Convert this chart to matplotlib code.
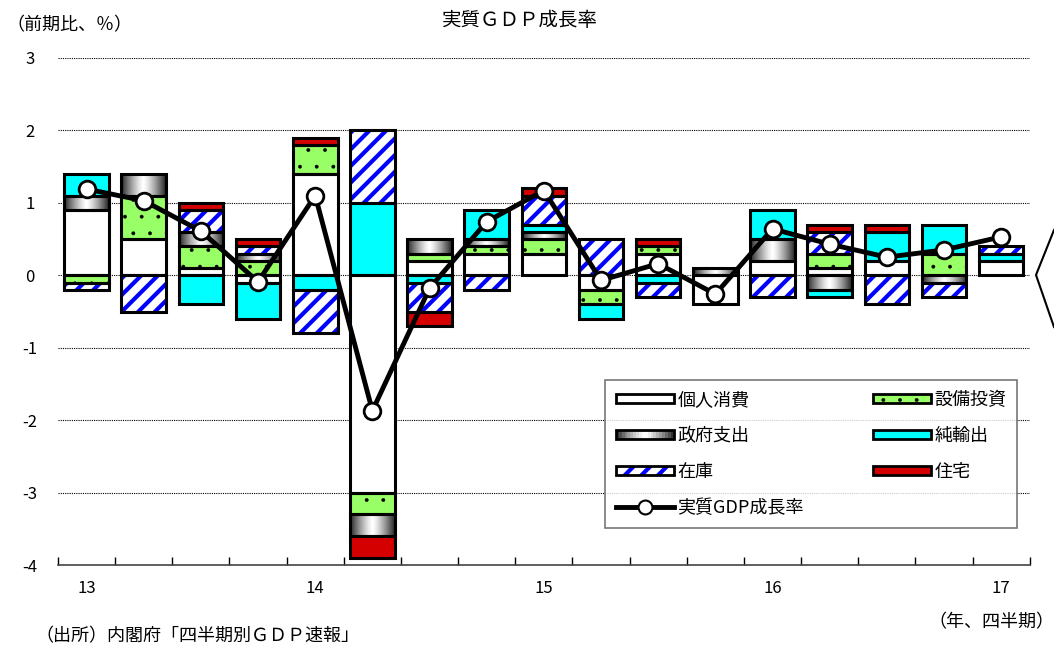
import numpy as np
import matplotlib as mpl
import matplotlib.pyplot as plt
from matplotlib.patches import Rectangle, Patch
from matplotlib.lines import Line2D
from matplotlib.legend_handler import HandlerBase

plt.rcParams['font.family'] = ['Noto Sans CJK JP', 'DejaVu Sans']
plt.rcParams['axes.unicode_minus'] = False
plt.rcParams['hatch.linewidth'] = 3.0

# 2013Q1 .. 2017Q1
quarters = list(range(17))
cons = [0.9, 0.5, 0.1, -0.1, 1.4, -3.0, 0.2, 0.3, 0.3, -0.2, 0.3, -0.4, 0.2, 0.1, 0.2, 0.0, 0.2]
capex = [-0.1, 0.6, 0.3, 0.2, 0.4, -0.3, 0.1, 0.1, 0.2, -0.2, 0.1, 0.0, 0.0, 0.2, 0.0, 0.3, 0.0]
gov = [0.2, 0.3, 0.2, 0.1, 0.0, -0.3, 0.2, 0.1, 0.1, 0.0, 0.0, 0.1, 0.3, -0.2, 0.0, -0.1, 0.0]
netx = [0.3, 0.0, -0.4, -0.5, -0.2, 1.0, -0.1, 0.4, 0.1, -0.2, -0.1, 0.0, 0.4, -0.1, 0.4, 0.4, 0.1]
inv = [-0.1, -0.5, 0.3, 0.1, -0.6, 1.0, -0.4, -0.2, 0.4, 0.5, -0.2, 0.0, -0.3, 0.3, -0.4, -0.2, 0.1]
house = [0.0, 0.0, 0.1, 0.1, 0.1, -0.3, -0.2, 0.0, 0.1, 0.0, 0.1, 0.0, 0.0, 0.1, 0.1, 0.0, 0.0]
gdp = [1.19, 1.03, 0.61, -0.09, 1.10, -1.87, -0.18, 0.74, 1.17, -0.07, 0.16, -0.26, 0.64, 0.43, 0.25, 0.35, 0.53]
year_pos = [0, 4, 8, 12, 16]
year_labels = ['13', '14', '15', '16', '17']

names = ['個人消費', '設備投資', '政府支出', '純輸出', '在庫', '住宅']
series = [cons, capex, gov, netx, inv, house]

W = 0.78
GREEN = '#99ff66'
CYAN = '#00ffff'
RED = '#d40000'
gray_cmap = plt.get_cmap('gray')
grad = np.abs(np.linspace(-1, 1, 64)) ** 1.3
grad = (1 - grad * 0.85)[None, :]


def green_patch(xy, w, h, **kw):
    with mpl.rc_context({'hatch.linewidth': 0.3}):
        return Rectangle(xy, w, h, fc=GREEN, ec='black', lw=0, hatch='.', **kw)


def draw_seg(ax, x, y0, h, kind):
    if h == 0:
        return
    x0 = x - W / 2
    if kind == '個人消費':
        ax.add_patch(Rectangle((x0, y0), W, h, fc='white', ec='none', zorder=2))
    elif kind == '設備投資':
        ax.add_patch(green_patch((x0, y0), W, h, zorder=2))
    elif kind == '政府支出':
        ax.imshow(grad, cmap=gray_cmap, vmin=0, vmax=1, aspect='auto',
                  extent=(x0, x0 + W, y0, y0 + h), zorder=2, interpolation='bilinear')
    elif kind == '純輸出':
        ax.add_patch(Rectangle((x0, y0), W, h, fc=CYAN, ec='none', zorder=2))
    elif kind == '在庫':
        ax.add_patch(Rectangle((x0, y0), W, h, fc='white', ec='#0000ff', lw=0, hatch='//', zorder=2))
    elif kind == '住宅':
        ax.add_patch(Rectangle((x0, y0), W, h, fc=RED, ec='none', zorder=2))
    ax.add_patch(Rectangle((x0, y0), W, h, fc='none', ec='black', lw=2.2, zorder=3))


fig = plt.figure(figsize=(10.54, 6.51), dpi=100)
ax = fig.add_axes([0.055, 0.132, 0.922, 0.779])

for i in quarters:
    pos, neg = 0.0, 0.0
    for name, s in zip(names, series):
        v = s[i]
        if v > 0:
            draw_seg(ax, i, pos, v, name)
            pos += v
        elif v < 0:
            draw_seg(ax, i, neg + v, -v, name)
            neg += v

ax.plot(quarters, gdp, color='black', lw=3.5, marker='o', ms=12,
        mfc='white', mec='black', mew=2, zorder=5)

ax.set_xlim(-0.5, 16.5)
ax.set_ylim(-4, 3)
ax.set_yticks(range(-4, 4))
for y in range(-3, 4):
    ax.axhline(y, color='black', lw=0.8, ls=(0, (1, 1)), zorder=1)
for sp in ['left', 'right', 'top']:
    ax.spines[sp].set_visible(False)
ax.spines['bottom'].set_linewidth(1.2)
ax.spines['bottom'].set_color('#444444')
ax.tick_params(axis='y', length=0, labelsize=12, pad=20)
for t in ax.get_yticklabels():
    t.set_horizontalalignment('center')
ax.set_xticks(np.arange(-0.5, 17, 1))
ax.set_xticklabels([])
ax.tick_params(axis='x', direction='in', length=6, width=1)
for p, lab in zip(year_pos, year_labels):
    ax.text(p, -4.2, lab, ha='center', va='top', fontsize=12)


class HandlerBox(HandlerBase):
    def __init__(self, kind):
        super().__init__()
        self.kind = kind

    def create_artists(self, legend, orig_handle, xdescent, ydescent, width, height, fontsize, trans):
        arts = []
        x0, y0 = -xdescent, -ydescent
        if self.kind == 'gov':
            n = 20
            for k in range(n):
                t = abs((k + 0.5) / n * 2 - 1) ** 1.3
                arts.append(Rectangle((x0 + width * k / n, y0), width / n + 0.3, height,
                                      fc=gray_cmap(1 - t * 0.85), ec='none', transform=trans))
        elif self.kind == 'inv':
            arts.append(Rectangle((x0, y0), width, height, fc='white', ec='#0000ff', lw=0,
                                  hatch='//', transform=trans))
        elif self.kind == 'capex':
            arts.append(green_patch((x0, y0), width, height, transform=trans))
        arts.append(Rectangle((x0, y0), width, height, fc='none', ec='black',
                              lw=2, transform=trans))
        return arts


h_cons = Patch(fc='white', ec='black', lw=2)
h_capex = Patch(fc=GREEN, ec='black', lw=2)
h_gov = Patch(fc='gray', ec='black', lw=2)
h_netx = Patch(fc=CYAN, ec='black', lw=2)
h_inv = Patch(fc='white', ec='black', lw=2)
h_house = Patch(fc=RED, ec='black', lw=2)
h_gdp = Line2D([], [], color='black', lw=3.5, marker='o', ms=10, mfc='white', mec='black', mew=1.5)
handles = [h_cons, h_gov, h_inv, h_gdp, h_capex, h_netx, h_house]
labels = ['個人消費', '政府支出', '在庫', '実質GDP成長率', '設備投資', '純輸出', '住宅']
leg = ax.legend(handles, labels, ncol=2, loc='upper left', mode='expand',
                bbox_to_anchor=(605 / 1054, 1 - 380 / 651, 412 / 1054, 0.0),
                bbox_transform=fig.transFigure,
                fontsize=13, handlelength=3.2, handleheight=0.45,
                labelspacing=1.0, columnspacing=1.6, handletextpad=0.2, borderpad=0.6,
                borderaxespad=0, frameon=True, fancybox=False, edgecolor='#555555',
                handler_map={h_gov: HandlerBox('gov'), h_inv: HandlerBox('inv'),
                             h_capex: HandlerBox('capex')})
leg.get_frame().set_linewidth(1.2)
leg.set_zorder(10)

fig.text(520 / 1054, 1 - 21 / 651, '実質ＧＤＰ成長率', ha='center', va='center', fontsize=14)
fig.text(6 / 1054, 1 - 25 / 651, '（前期比、％）', ha='left', va='center', fontsize=13)
fig.text(35 / 1054, 1 - 636 / 651, '（出所）内閣府「四半期別ＧＤＰ速報」', ha='left', va='center', fontsize=13)
fig.text(1054 / 1054, 1 - 622 / 651, '（年、四半期）', ha='right', va='center', fontsize=13)

fig.add_artist(Line2D([1054 / 1054, 1036 / 1054, 1054 / 1054],
                      [1 - 230 / 651, 1 - 275 / 651, 1 - 327 / 651],
                      transform=fig.transFigure, color='black', lw=1.5))

fig.savefig('out.png', dpi=100)
